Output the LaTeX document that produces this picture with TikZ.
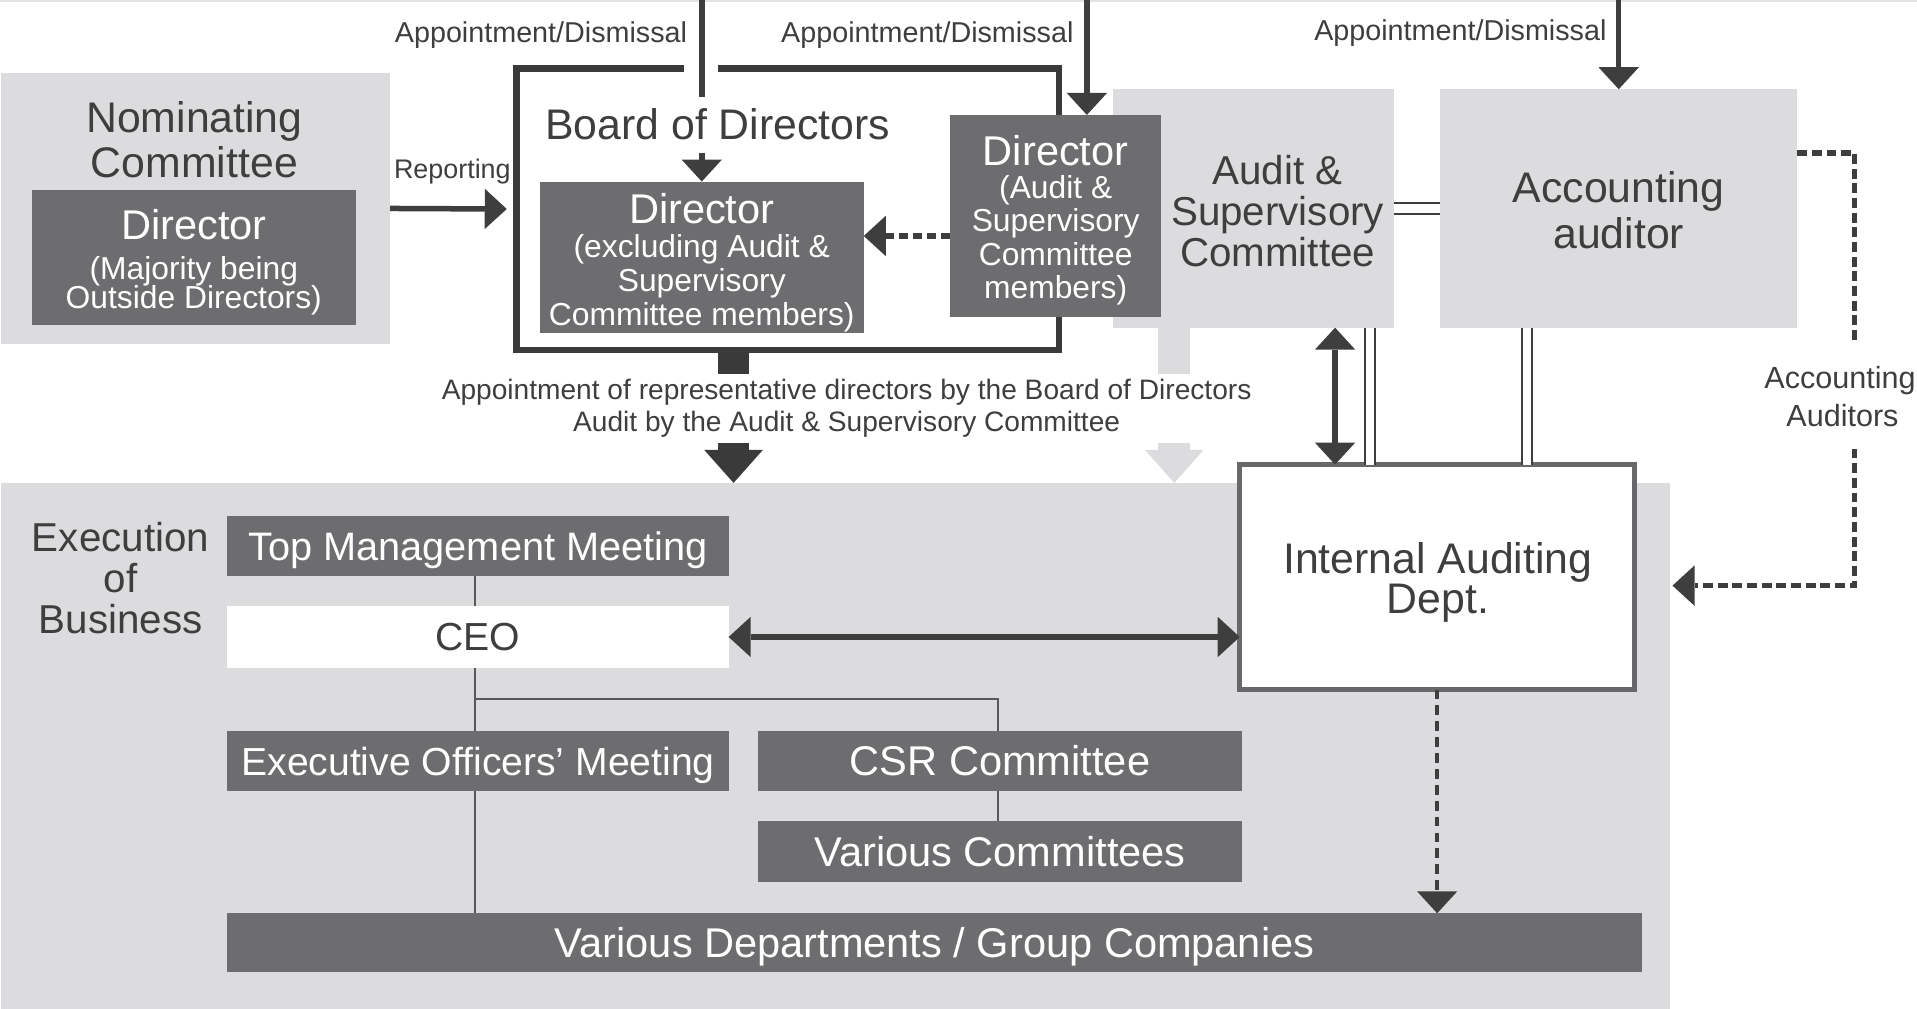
\documentclass[tikz,border=0pt]{standalone}
\usepackage{fontspec}
\setmainfont{Liberation Sans}
\usetikzlibrary{arrows.meta,calc}
\newcommand\fsz[1]{\fontsize{#1pt}{#1pt}\selectfont}
\definecolor{boxdark}{RGB}{109,109,112}
\definecolor{boxlight}{RGB}{220,220,222}
\definecolor{ink}{RGB}{62,62,62}
\definecolor{framedark}{RGB}{58,58,58}
\definecolor{auditframe}{RGB}{104,104,107}
\definecolor{treeline}{RGB}{88,88,90}
\definecolor{toprule}{RGB}{226,226,228}

\begin{document}
\begin{tikzpicture}[x=1pt,y=-1pt,
  lbox/.style={fill=boxlight,inner sep=0pt,outer sep=0pt},
  dbox/.style={fill=boxdark,inner sep=0pt,outer sep=0pt,text=white},
  wbox/.style={fill=white,inner sep=0pt,outer sep=0pt,text=ink},
  lbl/.style={inner sep=0pt,outer sep=0pt,anchor=base,text=ink},
  wlbl/.style={lbl,text=white},
  tipT/.tip={Triangle[length=18pt,width=33pt,line width=0pt]},
  conn/.style={draw=ink,line width=4.5pt},
  one/.style={conn,-tipT},
  two/.style={conn,tipT-tipT},
  dashconn/.style={conn,dash pattern=on 7pt off 4.5pt},
  tree/.style={draw=treeline,line width=1.8pt},
  dbl/.style={draw=ink,line width=1.5pt,double=white,double distance=8pt},
  block/.style={line width=26pt,-{Triangle[length=27pt,width=48pt,line width=0pt]}},
]
\useasboundingbox (0,0) rectangle (1568,825.3);
\draw[toprule,line width=1.5pt] (0,0.8) -- (1568,0.8);

% ---------------- Nominating Committee
\node[lbox,minimum width=318pt,minimum height=221pt] (nom) at (160,170.5) {};
\node[lbl,font=\fsz{35}] (nomt1) at (159,108) {Nominating};
\node[lbl,font=\fsz{35}] (nomt2) at (159,145) {Committee};
\node[dbox,minimum width=265pt,minimum height=111pt] (nomdir) at (158.5,210.5) {};
\node[wlbl,font=\fsz{34}] (nomd1) at (158.5,196) {Director};
\node[wlbl,font=\fsz{26}] (nomd2) at (158.5,229) {(Majority being};
\node[wlbl,font=\fsz{26}] (nomd3) at (158.5,252) {Outside Directors)};

% ---------------- Audit & Supervisory Committee and Accounting auditor
\node[lbox,minimum width=230pt,minimum height=195pt] (audcom) at (1025,170.5) {};
\node[lbl,font=\fsz{33}] (audc1) at (1045,151) {Audit \&};
\node[lbl,font=\fsz{33}] (audc2) at (1045,184.5) {Supervisory};
\node[lbl,font=\fsz{33}] (audc3) at (1045,218) {Committee};

\node[lbox,minimum width=292pt,minimum height=195pt] (acct) at (1324,170.5) {};
\node[lbl,font=\fsz{35}] (acct1) at (1324,166) {Accounting};
\node[lbl,font=\fsz{35}] (acct2) at (1324,203) {auditor};

% ---------------- Board of Directors
\node[draw=framedark,line width=5pt,inner sep=0pt,outer sep=0pt,
      minimum width=443.5pt,minimum height=230pt] (board) at (644.25,171) {};
\fill[white] (559.5,50) rectangle (587.5,62);

\node[dbox,minimum width=265pt,minimum height=124pt] (exdir) at (574,210.5) {};
\node[wlbl,font=\fsz{34}] (exd1) at (574,183) {Director};
\node[wlbl,font=\fsz{26}] (exd2) at (574,210.5) {(excluding Audit \&};
\node[wlbl,font=\fsz{26}] (exd3) at (574,238.5) {Supervisory};
\node[wlbl,font=\fsz{26}] (exd4) at (574,266) {Committee members)};

\node[dbox,minimum width=173pt,minimum height=165pt] (audir) at (863.5,176.5) {};
\node[wlbl,font=\fsz{34}] (aud1) at (863.5,135) {Director};
\node[wlbl,font=\fsz{26}] (aud2) at (863.5,162) {(Audit \&};
\node[wlbl,font=\fsz{26}] (aud3) at (863.5,189.5) {Supervisory};
\node[wlbl,font=\fsz{26}] (aud4) at (863.5,217) {Committee};
\node[wlbl,font=\fsz{26}] (aud5) at (863.5,244.5) {members)};

% ---------------- Appointment / dismissal from the top edge
\coordinate (top) at (0,0);
\coordinate (ax2) at (889,0);
\draw[one] (exdir.north |- top) -- (exdir.north);
\node[lbl,fill=white,inner xsep=3pt,inner ysep=10pt,font=\fsz{35}] (boardt) at (587,114.5) {Board of Directors};
\draw[one] (ax2) -- (ax2 |- audir.north);
\draw[one] (acct.north |- top) -- (acct.north);
\node[lbl,anchor=base east,font=\fsz{23.5}] (appt1) at (562,35) {Appointment/Dismissal};
\node[lbl,anchor=base east,font=\fsz{23.5}] (appt2) at (878,35) {Appointment/Dismissal};
\node[lbl,anchor=base east,font=\fsz{23.5}] (appt3) at (1314,33) {Appointment/Dismissal};

% ---------------- Reporting, internal links
\draw[one,shorten >=8pt] (nom.east) -- (board.west);
\node[lbl,font=\fsz{22}] (rep) at (370,146) {Reporting};
\draw[dashconn,-tipT] (audir.west |- 0,193) -- (exdir.east |- 0,193);
\draw[dbl] (audcom.east |- 0,170.5) -- (acct.west |- 0,170.5);

% ---------------- Execution of Business
\node[lbox,minimum width=1365pt,minimum height=430.3pt] (exec) at (683.5,610.15) {};
\node[lbl,font=\fsz{33}] (ex1) at (98.6,451) {Execution};
\node[lbl,font=\fsz{33}] (ex2) at (98.6,484.5) {of};
\node[lbl,font=\fsz{33}] (ex3) at (98.6,518) {Business};

\node[dbox,minimum width=410pt,minimum height=49pt,font=\fsz{32.5},text height=23.3pt,text depth=0pt] (topm) at (391,446.5) {Top Management Meeting};
\node[wbox,minimum width=410pt,minimum height=50pt,font=\fsz{32},text height=22.9pt,text depth=0pt] (ceo) at (391,521) {CEO};
\node[dbox,minimum width=410pt,minimum height=49pt,font=\fsz{32},text height=22.9pt,text depth=0pt] (eom) at (391,622.5) {Executive Officers’ Meeting};
\node[dbox,minimum width=396pt,minimum height=49pt,font=\fsz{34},text height=24.3pt,text depth=0pt] (csr) at (818,622.5) {CSR Committee};
\node[dbox,minimum width=396pt,minimum height=50pt,font=\fsz{34},text height=24.3pt,text depth=0pt] (vcom) at (818,696.5) {Various Committees};
\node[dbox,minimum width=1157pt,minimum height=48pt,font=\fsz{34},text height=24.3pt,text depth=0pt] (vdep) at (764.5,771) {Various Departments / Group Companies};

\coordinate (tx) at (388.5,0);
\coordinate (cx) at (816,0);
\coordinate (branch) at (388.5,572);
\draw[tree] (tx |- topm.south) -- (tx |- ceo.north);
\draw[tree] (tx |- ceo.south) -- (tx |- eom.north);
\draw[tree] (tx |- eom.south) -- (tx |- vdep.north);
\draw[tree] (branch) -| (cx |- csr.north);
\draw[tree] (cx |- csr.south) -- (cx |- vcom.north);

% ---------------- Internal Auditing Dept.
\node[draw=auditframe,fill=white,line width=4pt,inner sep=0pt,outer sep=0pt,
      minimum width=323pt,minimum height=184pt] (intaud) at (1175.5,472) {};
\node[lbl,font=\fsz{35}] (ia1) at (1176,469) {Internal Auditing};
\node[lbl,font=\fsz{35}] (ia2) at (1176,501.5) {Dept.};

\draw[two] (ceo.east) -- (intaud.west |- ceo.east);
\coordinate (vx) at (1092,0);
\draw[two] (vx |- audcom.south) -- (vx |- intaud.north);
\coordinate (dx1) at (1120.5,0);
\coordinate (dx2) at (1249,0);
\draw[dbl,double distance=7pt] (dx1 |- audcom.south) -- (dx1 |- intaud.north);
\draw[dbl,double distance=7pt] (dx2 |- acct.south) -- (dx2 |- intaud.north);
\draw[dashconn,line width=3.5pt,dash pattern=on 8pt off 5pt,-tipT] (intaud.south) -- (intaud.south |- vdep.north);

% ---------------- Accounting auditors' link
\coordinate (rd1) at (1517,125);
\coordinate (rd2) at (1517,280);
\coordinate (rd3) at (1517,367);
\coordinate (rd4) at (1517,479);
\draw[dashconn,dash pattern=on 8pt off 4pt] (acct.east |- rd1) -- (rd1) -- (rd2);
\draw[dashconn,dash pattern=on 8pt off 4pt,-tipT] (rd3) -- (rd4) -- ([xshift=2pt]exec.east |- rd4);
\node[lbl,font=\fsz{25}] (aa1) at (1505,318) {Accounting};
\node[lbl,font=\fsz{25}] (aa2) at (1507,349) {Auditors};

% ---------------- Appointment of representative directors / audit
\coordinate (dkx) at (600,0);
\coordinate (ltx) at (960.5,0);
\draw[block,draw=framedark,fill=framedark] (dkx |- board.south) -- (dkx |- exec.north);
\draw[block,draw=boxlight,fill=boxlight] (ltx |- audcom.south) -- (ltx |- exec.north);
\node[fill=white,inner sep=0pt,outer sep=0pt,minimum width=676pt,minimum height=56pt,
      align=center,text=ink,font=\fontsize{23pt}{26pt}\selectfont] (rep2) at (692.5,334)
      {Appointment of representative directors by the Board of Directors\\Audit by the Audit \& Supervisory Committee};
\end{tikzpicture}
\end{document}
